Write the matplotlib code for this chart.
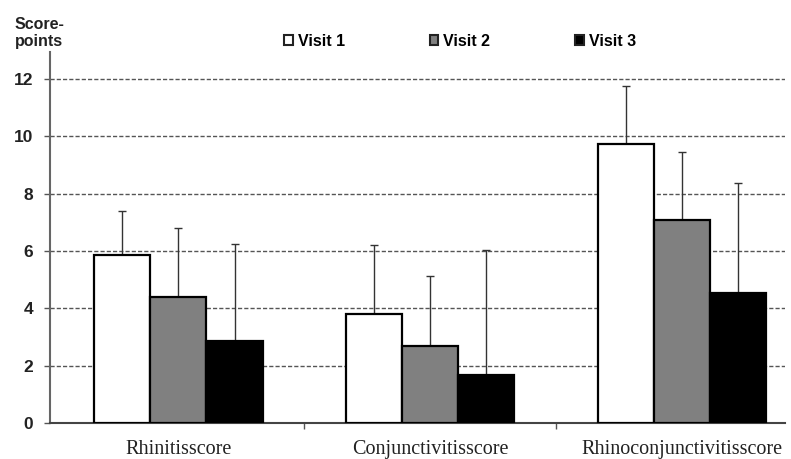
import matplotlib
matplotlib.use("Agg")
import matplotlib.pyplot as plt
import numpy as np
from matplotlib.patches import Patch

categories = ["Rhinitisscore", "Conjunctivitisscore", "Rhinoconjunctivitisscore"]
series = ["Visit 1", "Visit 2", "Visit 3"]
means = {
    "Visit 1": [5.85, 3.80, 9.73],
    "Visit 2": [4.40, 2.70, 7.08],
    "Visit 3": [2.86, 1.68, 4.53],
}
sd_upper = {
    "Visit 1": [1.55, 2.40, 2.02],
    "Visit 2": [2.40, 2.43, 2.37],
    "Visit 3": [3.38, 4.35, 3.84],
}
colors = {"Visit 1": "#ffffff", "Visit 2": "#808080", "Visit 3": "#000000"}
yticks = [0, 2, 4, 6, 8, 10, 12]

fig = plt.figure(figsize=(7.91, 4.59), dpi=100)
ax = fig.add_axes([50 / 791, 1 - 423 / 459, 735 / 791, (423 - 52) / 459])

x = np.arange(len(categories))
width = 0.223
for i, s in enumerate(series):
    pos = x + (i - 1) * width
    ax.bar(pos, means[s], width=width, color=colors[s], edgecolor="black",
           linewidth=1.6, zorder=3, label=s)
    ax.errorbar(pos, means[s], yerr=[np.zeros(len(categories)), sd_upper[s]],
                fmt="none", ecolor="#333333", elinewidth=1.0, capsize=3,
                capthick=1.0, zorder=2)

ax.set_xlim(-0.51, 2.41)
ax.set_ylim(0, 12.94)
ax.set_yticks(yticks)
ax.set_yticklabels([str(t) for t in yticks], fontfamily="Liberation Sans",
                   fontweight="bold", fontsize=12.5, color="#222222")
ax.tick_params(axis="y", direction="out", length=4, width=1, color="#555555", pad=8)

ax.set_xticks(x)
ax.set_xticklabels(categories, fontfamily="Liberation Serif", fontsize=14.5,
                   color="#222222")
ax.tick_params(axis="x", length=0, pad=12)
ax.set_xticks([0.5, 1.5], minor=True)
ax.tick_params(axis="x", which="minor", direction="out", length=4, width=1,
               color="#555555")

ax.yaxis.grid(True, linestyle=(0, (3, 1.5)), color="#555555", linewidth=1.0, zorder=0)
ax.set_axisbelow(True)
for side in ["top", "right"]:
    ax.spines[side].set_visible(False)
ax.spines["left"].set_color("#666666")
ax.spines["left"].set_linewidth(1.5)
ax.spines["bottom"].set_color("#444444")
ax.spines["bottom"].set_linewidth(1.5)

fig.text(15 / 791, 1 - 33 / 459, "Score-\npoints", fontfamily="Liberation Sans",
         fontweight="bold", fontsize=11.5, color="#222222", va="center",
         ha="left", linespacing=1.1)

handles = [Patch(facecolor=colors[s], edgecolor="#222222", linewidth=1.5) for s in series]
fig.legend(handles, series, loc="center", bbox_to_anchor=(460 / 791, 1 - 41 / 459),
           ncol=3, frameon=False, handlelength=0.55, handleheight=0.55,
           handletextpad=0.3, columnspacing=5.3,
           prop={"family": "Liberation Sans", "weight": "bold", "size": 11.5})

fig.savefig("out.png", dpi=100, facecolor="white")
